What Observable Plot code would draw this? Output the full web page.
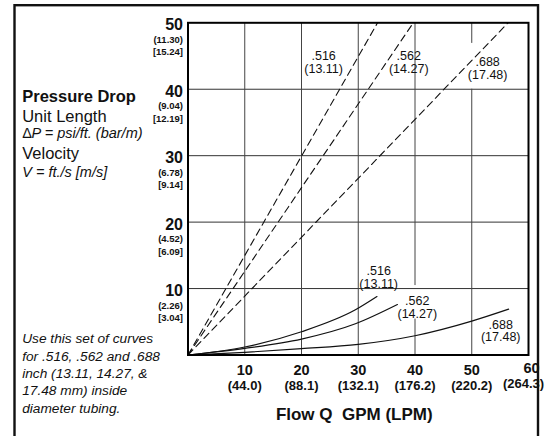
<!DOCTYPE html>
<html>
<head>
<meta charset="utf-8">
<script src="https://cdn.jsdelivr.net/npm/d3@7"></script>
<script src="https://cdn.jsdelivr.net/npm/@observablehq/plot@0.6"></script>
<style>
  html, body { margin: 0; padding: 0; background: #fff; }
  #chart svg { display: block; }
</style>
</head>
<body>
<div id="chart"></div>
<script>
// ---- Data ----
const yTicks = [10, 20, 30, 40, 50];
const yPsi = ["10", "20", "30", "40", "50"];
const yBar = ["(2.26)", "(4.52)", "(6.78)", "(9.04)", "(11.30)"];
const yVel = ["[3.04]", "[6.09]", "[9.14]", "[12.19]", "[15.24]"];

const xTicks = [10, 20, 30, 40, 50];
const xGpm = ["10", "20", "30", "40", "50"];
const xLpm = ["(44.0)", "(88.1)", "(132.1)", "(176.2)", "(220.2)"];
const xLastTick = [60];
const xLastGpm = ["60"];
const xLastLpm = ["(264.3)"];

const sizes = [".516", ".562", ".688"];
const sizesMm = ["(13.11)", "(14.27)", "(17.48)"];

// Pressure drop curves: [GPM, psi/ft]
const drop516 = [[0, 0], [10, 1.2], [20, 3.5], [29.5, 6.8], [33.3, 8.8]];
const drop562 = [[0, 0], [10, 1.0], [20, 2.4], [29.5, 4.7], [36.9, 7.6]];
const drop688 = [[0, 0], [10, 0.4], [20, 0.95], [30, 1.6], [40, 2.9], [50, 5.1], [56.5, 6.9]];

// Velocity lines: straight from origin to [GPM, ft/s]
const vel516 = [[0, 0], [33.4, 50]];
const vel562 = [[0, 0], [39.7, 50]];
const vel688 = [[0, 0], [56.4, 50]];

// Curve label anchors (data units)
const velLabelAt = [[23.9, 44.0], [38.9, 44.0], [52.8, 43.1]];
const dropLabelAt = [[33.6, 11.66], [40.4, 7.17], [55.1, 3.6]];

// Grid lines (vertical ones are broken where labels sit)
const hGrid = [10, 20, 30, 40];
const vGrid = [[10, 0, 50], [20, 0, 50], [30, 0, 50], [40, 0, 5.4], [40, 10.45, 50], [50, 0, 40], [50, 46.9, 50]];

const sideTitle = "Pressure Drop";
const sideLine1 = "Unit Length";
const sideLine2 = "Velocity";
const sideItalic1 = "P = psi/ft. (bar/m)";
const sideItalic2 = "V = ft./s [m/s]";
const noteLines = ["Use this set of curves", "for .516, .562 and .688", "inch (13.11, 14.27, &", "17.48 mm) inside", "diameter tubing."];
const xTitle = "Flow Q\u00a0 GPM (LPM)";

// ---- Layout ----
const W = 546, H = 436;
const mL = 187.5, mT = 22.3, mR = 18, mB = 81.5;
const FONT = "Liberation Sans, Arial, Helvetica, sans-serif";

const ax = (x) => x - mL; // dx from frame left
const ay = (y) => y - mT; // dy from frame top

const sideText = (txt, x, yBase, opts) => Plot.text([txt], Object.assign({
  frameAnchor: "top-left", text: d => d, dx: ax(x), dy: ay(yBase),
  textAnchor: "start", lineAnchor: "bottom", fontFamily: FONT, fill: "#111"
}, opts));

const plot = Plot.plot({
  width: W,
  height: H,
  marginLeft: mL,
  marginTop: mT,
  marginRight: mR,
  marginBottom: mB,
  x: {domain: [0, 60], axis: null},
  y: {domain: [0, 50], axis: null},
  marks: [
    Plot.ruleY(hGrid, {y: d => d, stroke: "#333", strokeWidth: 1}),
    Plot.ruleX(vGrid, {x: d => d[0], y1: d => d[1], y2: d => d[2], stroke: "#444", strokeWidth: 1}),
    // velocity (dashed)
    ...[vel516, vel562, vel688].map(v =>
      Plot.line(v, {x: d => d[0], y: d => d[1], stroke: "#111", strokeWidth: 1.1, strokeDasharray: "7,4.5"})),
    // pressure drop (solid)
    ...[drop516, drop562, drop688].map(p =>
      Plot.line(p, {x: d => d[0], y: d => d[1], stroke: "#111", strokeWidth: 1.2, curve: "monotone-x"})),
    Plot.frame({stroke: "#000", strokeWidth: 2}),
    // curve labels
    Plot.text(velLabelAt, {x: d => d[0], y: d => d[1], text: (d, i) => sizes[i] + "\n" + sizesMm[i],
      fontFamily: FONT, fontSize: 12.5, lineHeight: 1, fill: "#111"}),
    Plot.text(dropLabelAt, {x: d => d[0], y: d => d[1], text: (d, i) => sizes[i] + "\n" + sizesMm[i],
      fontFamily: FONT, fontSize: 12.5, lineHeight: 1, fill: "#111"}),
    // y tick labels
    Plot.text(yTicks, {frameAnchor: "left", y: d => d, text: (d, i) => yPsi[i], dx: -5, dy: 2.5,
      textAnchor: "end", lineAnchor: "middle", fontFamily: FONT, fontSize: 16, fontWeight: "bold", fill: "#111"}),
    Plot.text(yTicks, {frameAnchor: "left", y: d => d, text: (d, i) => yBar[i], dx: -5, dy: 17,
      textAnchor: "end", lineAnchor: "middle", fontFamily: FONT, fontSize: 9.5, fontWeight: "bold", fill: "#111"}),
    Plot.text(yTicks, {frameAnchor: "left", y: d => d, text: (d, i) => yVel[i], dx: -5, dy: 29.5,
      textAnchor: "end", lineAnchor: "middle", fontFamily: FONT, fontSize: 9.5, fontWeight: "bold", fill: "#111"}),
    // x tick labels
    Plot.text(xTicks, {frameAnchor: "bottom", x: d => d, text: (d, i) => xGpm[i], dy: 15.5,
      lineAnchor: "middle", fontFamily: FONT, fontSize: 14.5, fontWeight: "bold", fill: "#111"}),
    Plot.text(xTicks, {frameAnchor: "bottom", x: d => d, text: (d, i) => xLpm[i], dy: 31,
      lineAnchor: "middle", fontFamily: FONT, fontSize: 13, fontWeight: "bold", fill: "#111"}),
    Plot.text(xLastTick, {frameAnchor: "bottom", x: d => d, text: (d, i) => xLastGpm[i], dx: 3, dy: 13.5,
      lineAnchor: "middle", fontFamily: FONT, fontSize: 14.5, fontWeight: "bold", fill: "#111"}),
    Plot.text(xLastTick, {frameAnchor: "bottom", x: d => d, text: (d, i) => xLastLpm[i], dx: -5, dy: 28.5,
      lineAnchor: "middle", fontFamily: FONT, fontSize: 13, fontWeight: "bold", fill: "#111"}),
    // x axis title
    Plot.text([xTitle], {frameAnchor: "bottom", text: d => d, dx: -4, dy: 64.5, lineAnchor: "bottom",
      fontFamily: FONT, fontSize: 17, fontWeight: "bold", fill: "#111"}),
    // left side legend text
    sideText(sideTitle, 21.7, 101, {fontSize: 16.5, fontWeight: "bold"}),
    sideText(sideLine1, 21.7, 121.7, {fontSize: 16.5}),
    sideText("Δ", 21.7, 137.7, {fontSize: 14.5}),
    sideText(sideItalic1, 31, 137.7, {fontSize: 14.5, fontStyle: "italic"}),
    sideText(sideLine2, 21.7, 158.3, {fontSize: 16.5}),
    sideText(sideItalic2, 21.7, 176.7, {fontSize: 14.5, fontStyle: "italic"}),
    sideText(noteLines.join("\n"), 21.7, 412.3, {fontSize: 13.7, fontStyle: "italic", lineHeight: 1.27})
  ]
});

document.getElementById("chart").appendChild(plot);

const svg = d3.select(plot);
// outer border
svg.append("rect")
  .attr("x", 14.5).attr("y", 5.2)
  .attr("width", 523.5).attr("height", 440)
  .attr("fill", "none").attr("stroke", "#111").attr("stroke-width", 2.4);
</script>
</body>
</html>
